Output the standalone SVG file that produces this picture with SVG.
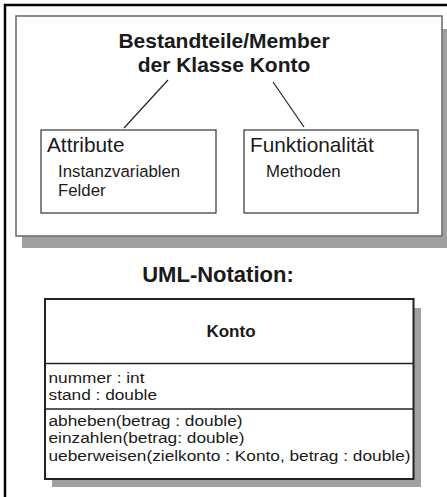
<svg xmlns="http://www.w3.org/2000/svg" width="447" height="497" viewBox="0 0 447 497">
<style>
text{font-family:"Liberation Sans",Arial,sans-serif;fill:#1a1a1a}
.b{font-weight:bold}
.shadow{fill:#a0a0a0}
.sub{stroke:#333;stroke-width:1.2;fill:#fff}
.ln{stroke:#222;stroke-width:1.2;fill:none}
.m{font-size:15.5px}
</style>
<rect width="447" height="497" fill="#fff"/>
<rect x="5" y="5" width="450" height="500" fill="none" stroke="#000" stroke-width="2.5"/>
<g id="container">
<rect class="shadow" x="22" y="29" width="430" height="219"/>
<rect x="16" y="16" width="426" height="220" fill="#fff" stroke="#707070" stroke-width="1.6"/>
<text class="b" x="224" y="48" font-size="21" text-anchor="middle">Bestandteile/Member</text>
<text class="b" x="224" y="72" font-size="21" text-anchor="middle">der Klasse Konto</text>
</g>
<g id="attribute">
<rect class="sub" x="41" y="130" width="175" height="83"/>
<text x="47" y="152" font-size="20.8">Attribute</text>
<text x="58" y="177" font-size="16.8">Instanzvariablen</text>
<text x="58" y="196" font-size="16.8">Felder</text>
</g>
<g id="funktionalitaet">
<rect class="sub" x="244" y="130" width="174" height="83"/>
<text x="250" y="152" font-size="20.8">Funktionalität</text>
<text x="266" y="177" font-size="16.8">Methoden</text>
</g>
<g id="connectors">
<line class="ln" x1="168" y1="80" x2="124" y2="128"/>
<line class="ln" x1="273" y1="82" x2="304" y2="127"/>
</g>
<g id="uml-title">
<text class="b" x="218" y="282" font-size="22" text-anchor="middle">UML-Notation:</text>
</g>
<g id="konto">
<rect class="shadow" x="52" y="308" width="369" height="179"/>
<rect x="45" y="299" width="368.5" height="180" fill="#fff" stroke="#1e2420" stroke-width="2"/>
<line x1="45" y1="363.5" x2="413.5" y2="363.5" stroke="#1e2420" stroke-width="1.5"/>
<line x1="45" y1="409" x2="413.5" y2="409" stroke="#1e2420" stroke-width="1.5"/>
<text class="b" x="231" y="337" font-size="17" text-anchor="middle">Konto</text>
<g transform="translate(48.5 0) scale(1.115 1) translate(-48.5 0)">
<text class="m" x="48.5" y="383">nummer : int</text>
<text class="m" x="48.5" y="400.5">stand : double</text>
<text class="m" x="48.5" y="426">abheben(betrag : double)</text>
<text class="m" x="48.5" y="443.5">einzahlen(betrag: double)</text>
<text class="m" x="48.5" y="461">ueberweisen(zielkonto : Konto, betrag : double)</text>
</g>
</g>
</svg>
